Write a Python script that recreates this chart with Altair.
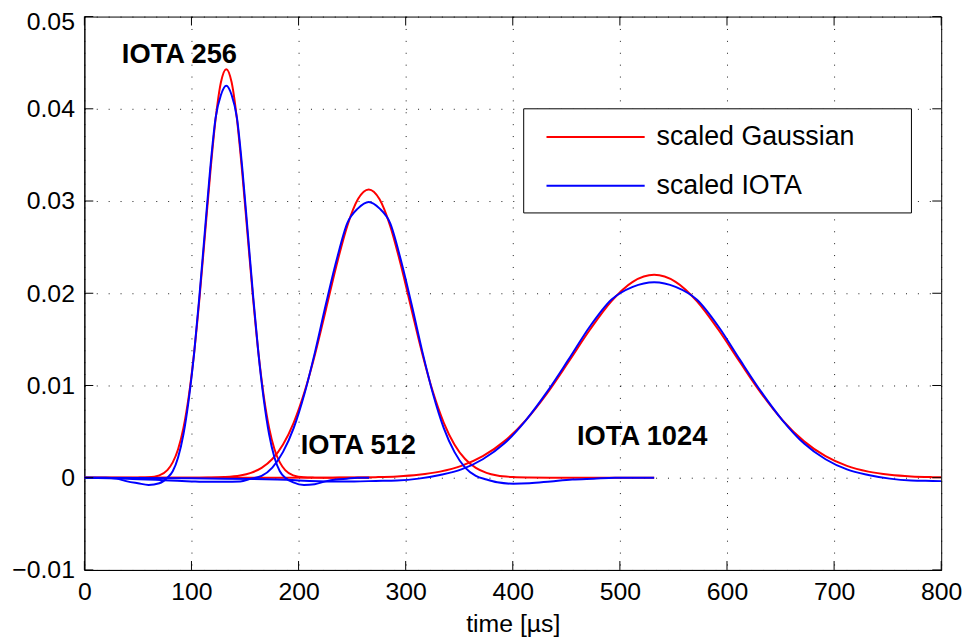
import altair as alt
import pandas as pd

# ---------------- data ----------------
x_ticks = [0, 100, 200, 300, 400, 500, 600, 700, 800]
y_ticks = [-0.01, 0.0, 0.01, 0.02, 0.03, 0.04, 0.05]

series_names = ["scaled Gaussian", "scaled IOTA"]
series_colors = ["#ff0000", "#0000ff"]

# IOTA 256
t256 = [0, 10, 20, 30, 40, 50, 60, 70, 77.5, 82.5, 87.5, 92.5, 97.5, 102.5, 107.5,
        112.5, 117.5, 122.5, 127.5, 132.5, 137.5, 142.5, 147.5, 152.5, 157.5, 162.5,
        167.5, 172.5, 177.5, 182.5, 187.5, 195, 205, 215, 225, 235, 245, 255, 266]
gauss256 = [0, 0, 0, 0, 0, 0.00001, 0.00004, 0.00026, 0.00083, 0.00166, 0.00309, 0.00540,
            0.00885, 0.01356, 0.01947, 0.02618, 0.03295, 0.03884, 0.04287, 0.0443,
            0.04287, 0.03884, 0.03295, 0.02618, 0.01947, 0.01356, 0.00885, 0.00540,
            0.00309, 0.00166, 0.00083, 0.00026, 0.00004, 0.00001, 0, 0, 0, 0, 0]
iota256 = [0, 0, 0, -0.0001, -0.0004, -0.0006, -0.00078, -0.0006, 0.0, 0.0007, 0.0022,
           0.0047, 0.0085, 0.0135, 0.0198, 0.0267, 0.0335, 0.0390, 0.0415, 0.0425,
           0.0415, 0.0390, 0.0335, 0.0267, 0.0198, 0.0135, 0.0085, 0.0047, 0.0022,
           0.0007, 0.0, -0.0005, -0.00078, -0.0007, -0.0004, -0.0002, -0.0001, 0, 0]

# IOTA 512
t512 = [0, 40, 80, 100, 115.5, 130.5, 145.5, 155.5, 165.5, 175.5, 185.5, 195.5, 205.5,
        215.5, 225.5, 235.5, 245.5, 255.5, 265.5, 275.5, 285.5, 295.5, 305.5, 315.5,
        325.5, 335.5, 345.5, 355.5, 365.5, 375.5, 385.5, 400.5, 415.5, 435.5, 455.5,
        475.5, 495.5, 532]
gauss512 = [0, 0, 0, 0, 0.00002, 0.00007, 0.00024, 0.00053, 0.00107, 0.00203, 0.00361,
            0.00598, 0.00928, 0.01345, 0.01822, 0.02307, 0.02731, 0.03021, 0.03125,
            0.03021, 0.02731, 0.02307, 0.01822, 0.01345, 0.00928, 0.00598, 0.00361,
            0.00203, 0.00107, 0.00053, 0.00024, 0.00007, 0.00002, 0, 0, 0, 0, 0]
iota512 = [0, -0.0001, -0.0003, -0.0004, -0.00045, -0.00045, -0.0004, -0.0001, 0.0002,
           0.0011, 0.0028, 0.0054, 0.0091, 0.0137, 0.0188, 0.0236, 0.0276, 0.0292, 0.0299,
           0.0292, 0.0276, 0.0236, 0.0188, 0.0137, 0.0091, 0.0054, 0.0028, 0.0011, 0.0002,
           -0.0002, -0.0005, -0.00065, -0.0006, -0.0004, -0.0002, -0.0001, 0, 0]

# IOTA 1024
t1024 = [0, 100, 180, 232, 252, 272, 292, 312, 332, 352, 372, 392, 412, 432, 452, 472,
         492, 512, 532, 552, 572, 592, 612, 632, 652, 672, 692, 712, 732, 752, 772, 792, 800]
gauss1024 = [0, 0, 0, 0.00001, 0.00002, 0.00006, 0.00014, 0.00032, 0.00066, 0.00128,
             0.00233, 0.00394, 0.00622, 0.00915, 0.01255, 0.01604, 0.01912, 0.02124,
             0.0220, 0.02124, 0.01912, 0.01604, 0.01255, 0.00915, 0.00622, 0.00394,
             0.00233, 0.00128, 0.00066, 0.00032, 0.00014, 0.00006, 0.00004]
iota1024 = [0, -0.00005, -0.0002, -0.0004, -0.0004, -0.00035, -0.0003, -0.0001, 0.0003,
            0.0009, 0.0020, 0.0037, 0.0062, 0.0093, 0.0128, 0.0164, 0.0193, 0.0207,
            0.0212, 0.0207, 0.0193, 0.0164, 0.0128, 0.0093, 0.0062, 0.0037, 0.0020,
            0.0009, 0.0003, -0.0001, -0.0003, -0.00035, -0.00037]

ann_labels = ["IOTA 256", "IOTA 512", "IOTA 1024"]
ann_t = [35, 202, 460]
ann_v = [0.0458, 0.0034, 0.0044]

# ---------------- table ----------------
rows = []
for sig, ts, g, b in [("256", t256, gauss256, iota256),
                      ("512", t512, gauss512, iota512),
                      ("1024", t1024, gauss1024, iota1024)]:
    assert len(ts) == len(g) == len(b), sig
    for t, v in zip(ts, g):
        rows.append({"t": t, "v": v, "series": series_names[0], "signal": sig})
    for t, v in zip(ts, b):
        rows.append({"t": t, "v": v, "series": series_names[1], "signal": sig})
df = pd.DataFrame(rows)

# ---------------- chart ----------------
W, H = 864, 558
FONT = "Liberation Sans"
TICK = 9

x_scale = alt.Scale(domain=[0, 800], nice=False, zero=False)
y_scale = alt.Scale(domain=[-0.01, 0.05], nice=False, zero=False)

x_axis = alt.Axis(values=x_ticks, title="time [µs]", format="d",
                  labelFlush=False, labelPadding=10, titlePadding=7)
y_axis = alt.Axis(
    values=y_ticks, title=None, format=".2~f", labelPadding=10,
    labelOffset={"condition": {"test": "datum.value >= 0.0499", "value": 5}, "value": 0},
)

legend = alt.Legend(
    orient="none", legendX=449, legendY=92, title=None, direction="vertical",
    symbolType="stroke", symbolSize=9801, symbolStrokeWidth=2, clipHeight=27,
    rowPadding=21, labelOffset=11, labelFontSize=27, labelFont=FONT,
    labelColor="black", labelLimit=1000, padding=16,
)

# legend frame (white box with black border) drawn behind the legend entries
legend_box = alt.Chart(pd.DataFrame({"k": [0]})).mark_rect(
    fill="white", stroke="black", strokeWidth=1
).encode(
    x=alt.value(443), x2=alt.value(834), y=alt.value(93), y2=alt.value(198)
)

base = alt.Chart(df).mark_line(strokeWidth=2, interpolate="monotone", clip=True).encode(
    x=alt.X("t:Q", scale=x_scale, axis=x_axis),
    y=alt.Y("v:Q", scale=y_scale, axis=y_axis),
    color=alt.Color("series:N",
                    scale=alt.Scale(domain=series_names, range=series_colors),
                    legend=legend),
    detail="signal:N",
)
red = base.transform_filter(alt.datum.series == series_names[0])
blue = base.transform_filter(alt.datum.series == series_names[1])

ann = alt.Chart(pd.DataFrame({"label": ann_labels, "t": ann_t, "v": ann_v})).mark_text(
    align="left", baseline="middle", fontSize=27.5, fontWeight="bold", font=FONT, color="black"
).encode(
    x=alt.X("t:Q", scale=x_scale, axis=x_axis),
    y=alt.Y("v:Q", scale=y_scale, axis=y_axis),
    text="label:N",
)

xt = pd.DataFrame({"t": x_ticks})
yt = pd.DataFrame({"v": y_ticks})
tick_bottom = alt.Chart(xt).mark_rule(color="black", strokeWidth=1).encode(
    x=alt.X("t:Q", scale=x_scale, axis=x_axis), y=alt.value(H), y2=alt.value(H - TICK))
tick_top = alt.Chart(xt).mark_rule(color="black", strokeWidth=1).encode(
    x=alt.X("t:Q", scale=x_scale, axis=x_axis), y=alt.value(0), y2=alt.value(TICK))
tick_left = alt.Chart(yt).mark_rule(color="black", strokeWidth=1).encode(
    y=alt.Y("v:Q", scale=y_scale, axis=y_axis), x=alt.value(0), x2=alt.value(TICK))
tick_right = alt.Chart(yt).mark_rule(color="black", strokeWidth=1).encode(
    y=alt.Y("v:Q", scale=y_scale, axis=y_axis), x=alt.value(W), x2=alt.value(W - TICK))

chart = alt.layer(
    legend_box, red, blue, ann, tick_bottom, tick_top, tick_left, tick_right
).properties(
    width=W, height=H,
    autosize=alt.AutoSizeParams(type="none"),
    padding={"left": 77, "top": 6, "right": 24, "bottom": 68},
).configure(
    font=FONT,
).configure_view(
    stroke="black", strokeWidth=1,
).configure_axis(
    domainColor="black", domainWidth=1, ticks=False, tickSize=0,
    labelFont=FONT, labelFontSize=25, labelColor="black",
    grid=True, gridColor="black", gridDash=[1, 11], gridWidth=1, gridOpacity=0.9,
    titleFont=FONT, titleFontSize=25, titleFontWeight="normal", titleColor="black",
)

chart.save("out.html", embed_options={"renderer": "svg", "actions": False})
